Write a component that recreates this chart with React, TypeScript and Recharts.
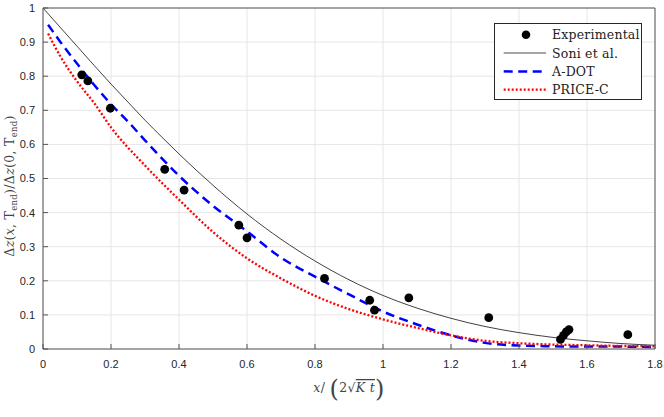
import React from 'react';
import {
  ComposedChart,
  Line,
  Scatter,
  XAxis,
  YAxis,
  CartesianGrid,
  Legend,
  Label,
} from 'recharts';

// ---- data ----
const expX = [0.114, 0.132, 0.198, 0.358, 0.415, 0.576, 0.6, 0.828, 0.961, 0.975, 1.076, 1.311, 1.522, 1.531, 1.539, 1.547, 1.72];
const expY = [0.804, 0.786, 0.706, 0.527, 0.466, 0.363, 0.326, 0.207, 0.143, 0.114, 0.15, 0.092, 0.028, 0.04, 0.05, 0.057, 0.042];

const soniX = [0, 0.05, 0.1, 0.15, 0.2, 0.25, 0.3, 0.35, 0.4, 0.45, 0.5, 0.6, 0.7, 0.8, 0.9, 1.0, 1.1, 1.2, 1.3, 1.4, 1.5, 1.6, 1.7, 1.8];
const soniY = [1.0, 0.944, 0.888, 0.832, 0.777, 0.724, 0.671, 0.621, 0.572, 0.525, 0.48, 0.396, 0.322, 0.258, 0.203, 0.157, 0.12, 0.09, 0.066, 0.048, 0.034, 0.024, 0.016, 0.011];

const adotX = [0.015, 0.05, 0.1, 0.15, 0.2, 0.25, 0.3, 0.4, 0.5, 0.6, 0.7, 0.8, 0.9, 1.0, 1.1, 1.2, 1.3, 1.4, 1.5, 1.6, 1.7, 1.8];
const adotY = [0.951, 0.902, 0.837, 0.775, 0.718, 0.667, 0.612, 0.508, 0.42, 0.345, 0.268, 0.212, 0.16, 0.11, 0.072, 0.04, 0.018, 0.01, 0.008, 0.007, 0.007, 0.006];

const priceX = [0.015, 0.05, 0.1, 0.15, 0.2, 0.3, 0.4, 0.5, 0.6, 0.7, 0.8, 0.9, 1.0, 1.1, 1.2, 1.3, 1.4, 1.5, 1.6, 1.7, 1.8];
const priceY = [0.925, 0.86, 0.785, 0.722, 0.65, 0.538, 0.438, 0.343, 0.266, 0.207, 0.156, 0.117, 0.087, 0.062, 0.04, 0.024, 0.017, 0.013, 0.011, 0.009, 0.008];

const xTicks = [0, 0.2, 0.4, 0.6, 0.8, 1, 1.2, 1.4, 1.6, 1.8];
const yTicks = [0, 0.1, 0.2, 0.3, 0.4, 0.5, 0.6, 0.7, 0.8, 0.9, 1];

const legendNames = ['Experimental', 'Soni et al.', 'A-DOT', 'PRICE-C'];

const zip = (xs: number[], ys: number[]) => xs.map((x, i) => ({ x, y: ys[i] }));
const expData = zip(expX, expY);
const soniData = zip(soniX, soniY);
const adotData = zip(adotX, adotY);
const priceData = zip(priceX, priceY);

const AXIS = '#262626';
const SERIF = '"DejaVu Serif", serif';
const SANS = '"Liberation Sans", Arial, sans-serif';

const tickStyle = { fill: AXIS, fontSize: 11, fontFamily: SANS };

const Dot = (props: any) => {
  const { cx, cy } = props;
  if (cx == null || cy == null) return null;
  return <circle cx={cx} cy={cy} r={4.4} fill="#000" />;
};

const XLabelContent = (props: any) => {
  const vb = props.viewBox || { x: 43, width: 612 };
  const cx = vb.x + vb.width / 2;
  return (
    <text x={cx} y={392} textAnchor="middle" fill="#444" fontFamily={SERIF} fontSize={12.5} letterSpacing={0.3}>
      <tspan fontStyle="italic">x</tspan>
      <tspan>/ </tspan>
      <tspan fontSize={24} dy={5}>(</tspan>
      <tspan fontSize={12.5} dy={-5}>2√</tspan>
      <tspan fontStyle="italic" textDecoration="overline">K t</tspan>
      <tspan fontSize={24} dy={5}>)</tspan>
    </text>
  );
};

const YLabelContent = () => {
  return (
    <text transform="rotate(-90)" x={-186} y={14} textAnchor="middle" fill="#444" fontFamily={SERIF} fontSize={12.5} letterSpacing={0.3}>
      <tspan>Δ</tspan>
      <tspan fontStyle="italic">z</tspan>
      <tspan>(</tspan>
      <tspan fontStyle="italic">x</tspan>
      <tspan>, T</tspan>
      <tspan fontSize={8.5} dy={3}>end</tspan>
      <tspan dy={-3}>)/Δ</tspan>
      <tspan fontStyle="italic">z</tspan>
      <tspan>(0, T</tspan>
      <tspan fontSize={8.5} dy={3}>end</tspan>
      <tspan dy={-3}>)</tspan>
    </text>
  );
};

const LegendBox = () => {
  const rows = [10.7, 29, 47.4, 65.7];
  const x0 = 8.7;
  const x1 = 51;
  const tx = 57;
  return (
    <div style={{ width: 148, height: 77, border: `1px solid ${AXIS}`, background: '#fff', boxSizing: 'border-box' }}>
      <svg width={146} height={75} style={{ display: 'block', overflow: 'visible' }}>
        <circle cx={31} cy={rows[0]} r={4.3} fill="#000" />
        <line x1={x0} x2={x1} y1={rows[1]} y2={rows[1]} stroke="#888" strokeWidth={1.3} />
        <line x1={x0} x2={x1} y1={rows[2]} y2={rows[2]} stroke="#0000ff" strokeWidth={2.5} strokeDasharray="9 5.5" />
        <line x1={x0} x2={x1} y1={rows[3]} y2={rows[3]} stroke="#ff0000" strokeWidth={2.3} strokeDasharray="2 2" />
        {legendNames.map((n, i) => (
          <text key={n} x={tx} y={rows[i] + 4.5} fontFamily={SERIF} fontSize={12.5} letterSpacing={0.2} fill="#222">
            {n}
          </text>
        ))}
      </svg>
    </div>
  );
};

export default function App() {
  return (
    <div style={{ position: 'absolute', left: 0, top: 0, width: 664, height: 417, background: '#fff' }}>
      <ComposedChart width={664} height={417} margin={{ top: 7, right: 8, bottom: 38, left: 3 }}>
        <CartesianGrid stroke="#e6e6e6" strokeWidth={1} verticalValues={xTicks} horizontalValues={yTicks} />
        <XAxis
          dataKey="x"
          type="number"
          domain={[0, 1.8]}
          ticks={xTicks}
          allowDataOverflow
          height={30}
          tickSize={-5}
          tickMargin={16}
          tick={tickStyle}
          stroke={AXIS}
          axisLine={{ stroke: '#555', strokeWidth: 1 }}
          tickLine={{ stroke: '#555', strokeWidth: 1 }}
        >
          <Label content={XLabelContent} />
        </XAxis>
        <XAxis
          xAxisId="top"
          orientation="top"
          dataKey="x"
          type="number"
          domain={[0, 1.8]}
          ticks={xTicks}
          allowDataOverflow
          height={1}
          tickSize={-5}
          tick={false}
          axisLine={{ stroke: '#555', strokeWidth: 1 }}
          tickLine={{ stroke: '#555', strokeWidth: 1 }}
        />
        <YAxis
          type="number"
          domain={[0, 1]}
          ticks={yTicks}
          allowDataOverflow
          width={40}
          tickSize={-5}
          tickMargin={13}
          tick={tickStyle}
          axisLine={{ stroke: '#555', strokeWidth: 1 }}
          tickLine={{ stroke: '#555', strokeWidth: 1 }}
        >
          <Label content={YLabelContent} />
        </YAxis>
        <YAxis
          yAxisId="right"
          orientation="right"
          type="number"
          domain={[0, 1]}
          ticks={yTicks}
          allowDataOverflow
          width={1}
          tickSize={-5}
          tick={false}
          axisLine={{ stroke: '#555', strokeWidth: 1 }}
          tickLine={{ stroke: '#555', strokeWidth: 1 }}
        />
        <Line data={soniData} dataKey="y" type="monotone" stroke="#111" strokeWidth={0.8} dot={false} activeDot={false} isAnimationActive={false} />
        <Line data={adotData} dataKey="y" type="monotone" stroke="#0000ff" strokeWidth={2.5} strokeDasharray="9 5.5" dot={false} activeDot={false} isAnimationActive={false} />
        <Line data={priceData} dataKey="y" type="monotone" stroke="#ff0000" strokeWidth={2.3} strokeDasharray="2 2" dot={false} activeDot={false} isAnimationActive={false} />
        <Scatter data={expData} dataKey="y" fill="#000" shape={Dot} isAnimationActive={false} />
        <Legend
          layout="vertical"
          align="center"
          verticalAlign="middle"
          content={LegendBox}
          wrapperStyle={{ position: 'absolute', left: 494, top: 23, width: 148, height: 77 }}
        />
      </ComposedChart>
    </div>
  );
}
